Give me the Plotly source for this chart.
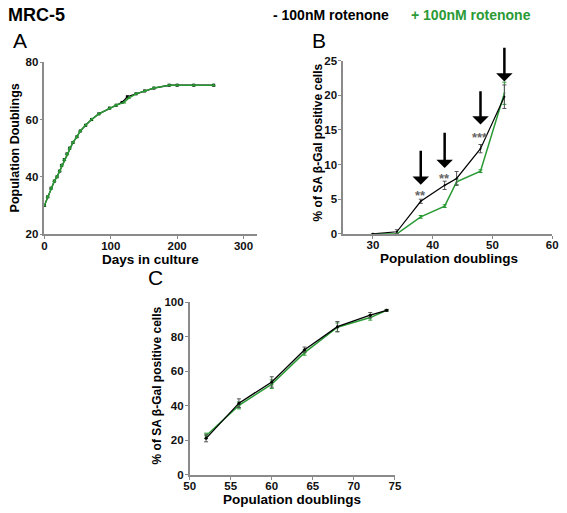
import plotly.graph_objects as go

W, H = 567, 513

# ---------------- data ----------------
# Panel A: days in culture vs population doublings
days_minus = [0, 5, 10, 15, 19, 23, 26, 30, 34, 38, 43, 49, 54, 62, 71, 82, 98, 108, 117, 125, 138, 151, 165, 188, 200, 225, 255]
pd_minus = [30, 33, 36, 38.5, 40, 42, 44, 46, 48, 50, 52, 54, 56, 58, 60, 62, 64, 65, 66, 68, 69, 70, 71, 72, 72, 72, 72]
days_plus = [0, 5, 10, 15, 19, 23, 26, 30, 34, 38, 43, 49, 54, 62, 71, 82, 98, 108, 120, 127, 138, 151, 165, 188, 200, 225, 255]
pd_plus = [30, 33, 36, 38.5, 40, 42, 44, 46, 48, 50, 52, 54, 56, 58, 60, 62, 64, 65, 66, 67.5, 69, 70, 71, 72, 72, 72, 72]

# Panel B: % SA beta-Gal positive cells (early PDs)
b_pd = [30, 34, 38, 42, 44, 48, 52]
b_minus = [0, 0.3, 4.7, 7.0, 8.0, 12.3, 19.8]
b_minus_err = [0, 0.3, 0.3, 0.6, 1.0, 0.6, 1.7]
b_plus = [0, 0, 2.45, 4.0, 7.5, 9.05, 20.3]
b_plus_err = [0, 0, 0.2, 0.2, 0.4, 0.2, 1.6]

# significance markers in panel B
sig_pd = [38, 41.9, 48]
sig_y = [6.0, 8.4, 14.3]
sig_text = ["**", "**", "***"]
# arrows in panel B (head y, tail y)
arrow_pd = [38, 42, 48, 52]
arrow_head = [7.1, 9.5, 15.8, 22.0]
arrow_tail = [12.2, 14.8, 20.8, 27.1]

# Panel C: % SA beta-Gal positive cells (late PDs)
c_pd = [52, 56, 60, 64, 68, 72, 74]
c_minus = [21.1, 41.5, 53.8, 72.5, 85.8, 92.5, 95.3]
c_minus_err = [2.0, 2.5, 3.0, 1.5, 3.0, 1.5, 0.5]
c_plus = [22.6, 40.2, 52.5, 70.8, 85.5, 91.1, 95.3]
c_plus_err = [1.5, 2.0, 2.5, 1.5, 2.5, 1.5, 0.5]

BLACK = "#000000"
GREEN = "#2a9a35"
AXIS = "#8a8a8a"
FONT = "Liberation Sans, Arial, sans-serif"

fig = go.Figure()

# Panel A
fig.add_trace(go.Scatter(x=days_minus, y=pd_minus, mode="lines+markers",
                         line=dict(color=BLACK, width=1.3),
                         marker=dict(symbol="square", size=3, color=BLACK),
                         xaxis="x", yaxis="y", cliponaxis=False, showlegend=False))
fig.add_trace(go.Scatter(x=days_plus, y=pd_plus, mode="lines+markers",
                         line=dict(color=GREEN, width=1.5),
                         marker=dict(symbol="triangle-up", size=4, color=GREEN),
                         xaxis="x", yaxis="y", cliponaxis=False, showlegend=False))

# Panel B
fig.add_trace(go.Scatter(x=b_pd, y=b_plus, mode="lines+markers",
                         line=dict(color=GREEN, width=1.5),
                         marker=dict(size=2, color=GREEN),
                         error_y=dict(type="data", array=b_plus_err, color=GREEN, thickness=1, width=2),
                         xaxis="x2", yaxis="y2", cliponaxis=False, showlegend=False))
fig.add_trace(go.Scatter(x=b_pd, y=b_minus, mode="lines+markers",
                         line=dict(color=BLACK, width=1.2),
                         marker=dict(size=2, color=BLACK),
                         error_y=dict(type="data", array=b_minus_err, color="#555555", thickness=1, width=2),
                         xaxis="x2", yaxis="y2", cliponaxis=False, showlegend=False))

# Panel C
fig.add_trace(go.Scatter(x=c_pd, y=c_plus, mode="lines+markers",
                         line=dict(color=GREEN, width=1.5),
                         marker=dict(size=3, color=GREEN),
                         error_y=dict(type="data", array=c_plus_err, color=GREEN, thickness=1, width=2),
                         xaxis="x3", yaxis="y3", cliponaxis=False, showlegend=False))
fig.add_trace(go.Scatter(x=c_pd, y=c_minus, mode="lines+markers",
                         line=dict(color=BLACK, width=1.3),
                         marker=dict(size=3, color=BLACK),
                         error_y=dict(type="data", array=c_minus_err, color="#555555", thickness=1, width=2),
                         xaxis="x3", yaxis="y3", cliponaxis=False, showlegend=False))


def ax(domain, rng, tickvals, anchor, standoff):
    return dict(domain=domain, range=rng, tickvals=tickvals, anchor=anchor,
                showline=True, linecolor=AXIS, linewidth=1.5, ticks="outside",
                ticklen=3, tickcolor=AXIS, tickwidth=1, showgrid=False, zeroline=False,
                ticklabelstandoff=standoff,
                tickfont=dict(family=FONT, size=11.5, color="#111111", weight="bold"),
                fixedrange=True)


def px(x):
    return x / W


def py(y):
    return 1 - y / H


fig.update_layout(
    width=W, height=H, margin=dict(l=0, r=0, t=0, b=0),
    paper_bgcolor="white", plot_bgcolor="white",
    xaxis=ax([px(39.3), px(256.7)], [0, 320], [0, 100, 200, 300], "y", -3),
    yaxis=ax([py(233.5), py(57.7)], [20, 80], [20, 40, 60, 80], "x", -1),
    xaxis2=ax([px(345), px(559)], [25, 60], [30, 40, 50, 60], "y2", -3),
    yaxis2=ax([py(233.3), py(56)], [0, 25], [0, 5, 10, 15, 20, 25], "x2", -1),
    xaxis3=ax([px(188), px(398)], [50, 75], [50, 55, 60, 65, 70, 75], "y3", -3),
    yaxis3=ax([py(480), py(303.3)], [0, 100], [0, 20, 40, 60, 80, 100], "x3", -1),
)

ann = []


def text(t, x, y, size, color=BLACK, bold=True, angle=0):
    ann.append(dict(text=t, x=px(x), y=py(y), xref="paper", yref="paper",
                    showarrow=False, xanchor="center", yanchor="middle", textangle=angle,
                    font=dict(family=FONT, size=size, color=color,
                              weight="bold" if bold else "normal")))


text("MRC-5", 31, 9, 18)
text("- 100nM rotenone", 332.5, 9, 14)
text("+ 100nM rotenone", 475.5, 9, 14, color=GREEN)
text("A", 14, 35, 21, bold=False)
text("B", 320.5, 35, 21, bold=False)
text("C", 152.5, 278.5, 21, bold=False)
text("Population Doublings", 9, 145, 12.5, angle=-90)
text("Days in culture", 148, 260, 13.5)
text("% of SA β-Gal positive cells", 319, 140, 12, angle=-90)
text("Population doublings", 453, 259, 13.5)
text("% of SA β-Gal positive cells", 154, 388, 12, angle=-90)
text("Population doublings", 292.5, 505, 13.5)

for xs, ys, t in zip(sig_pd, sig_y, sig_text):
    ann.append(dict(text=t, x=xs, y=ys, xref="x2", yref="y2", showarrow=False,
                    yshift=-3, font=dict(family=FONT, size=13, color="#666666", weight="bold")))

for xa, yh, yt in zip(arrow_pd, arrow_head, arrow_tail):
    ann.append(dict(text="", x=xa, y=yh, xref="x2", yref="y2",
                    ax=xa, ay=yt, axref="x2", ayref="y2", showarrow=True,
                    arrowhead=1, arrowsize=1.1, arrowwidth=2.5, arrowcolor=BLACK, standoff=0))

fig.update_layout(annotations=ann)
fig.write_html("out.html", config={"displayModeBar": False},
               post_script="document.body.style.margin='0';document.body.style.padding='0';document.body.style.overflow='hidden';")
